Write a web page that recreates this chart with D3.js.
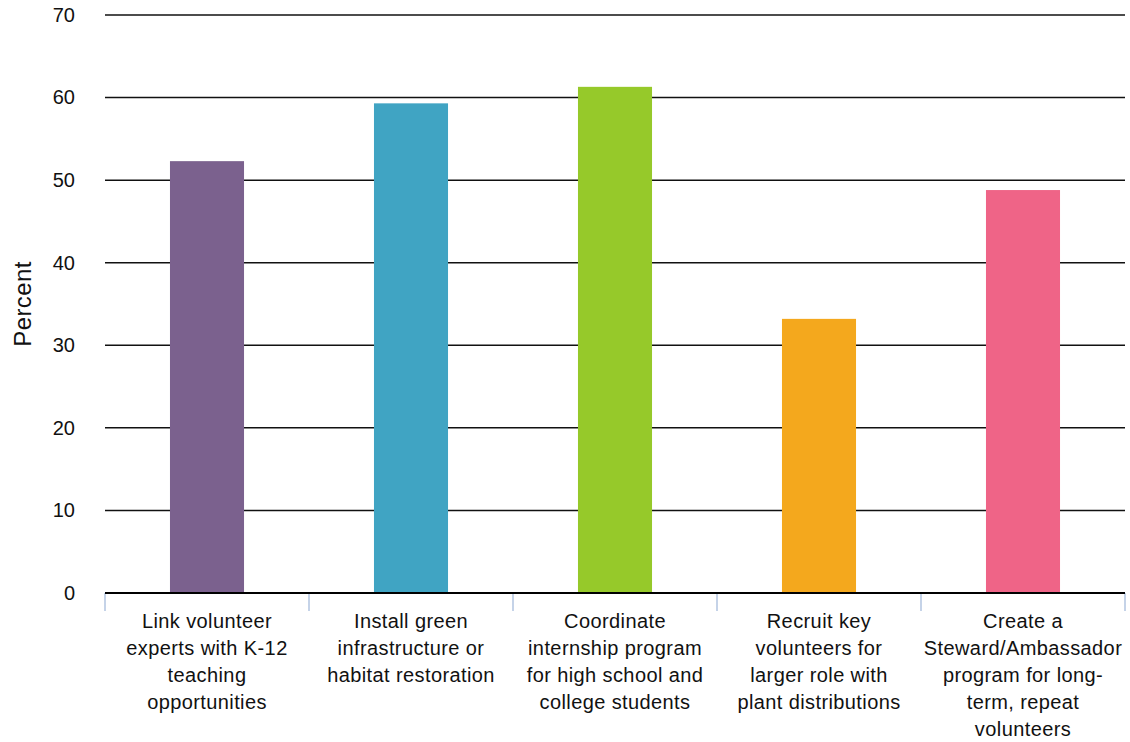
<!DOCTYPE html>
<html>
<head>
<meta charset="utf-8">
<script src="https://cdn.jsdelivr.net/npm/d3@7"></script>
<style>
body{margin:0;background:#fff;font-family:"Liberation Sans",Arial,sans-serif;}
</style>
</head>
<body>
<div id="chart"></div>
<script>
// categories (line breaks as in the original)
var categorias=[
	"Link volunteer|experts with K-12|teaching|opportunities",
	"Install green|infrastructure or|habitat restoration",
	"Coordinate|internship program|for high school and|college students",
	"Recruit key|volunteers for|larger role with|plant distributions",
	"Create a|Steward/Ambassador|program for long-|term, repeat|volunteers"
]
var valores=[52.3,59.3,61.3,33.2,48.8]
var colores=["#7B618E","#40A4C3","#96C92A","#F4A81D","#EF6487"]
var ticksY=[0,10,20,30,40,50,60,70]

var W=1130,H=742
var margin={top:15,bottom:149,left:105,right:5}
var ancho=W-margin.left-margin.right
var alto=H-margin.top-margin.bottom

var svg1=d3.select("#chart").append("svg")
	.attr("width",W).attr("height",H)
var svg=svg1.append("g")
	.attr("transform","translate("+margin.left+","+margin.top+")")

var escalaX=d3.scaleBand().domain(d3.range(categorias.length)).range([0,ancho]).padding(0)
var escalaY=d3.scaleLinear().domain([0,70]).range([alto,0])

//Grid
svg.append("g").selectAll("line").data(ticksY.filter(d=>d>0)).enter().append("line")
	.attr("x1",0).attr("x2",ancho)
	.attr("y1",d=>escalaY(d)).attr("y2",d=>escalaY(d))
	.attr("stroke","#111").attr("stroke-width",1.5)

//Etiquetas eje Y
var ejeY=svg.append("g")
	.call(d3.axisLeft(escalaY).tickValues(ticksY).tickSize(0).tickPadding(30))
ejeY.select(".domain").remove()
ejeY.selectAll("text").style("font-size","20px").style("font-family","Liberation Sans, Arial, sans-serif").attr("fill","#111")

//Barras
var bw=escalaX.bandwidth()*0.363
svg.selectAll(".barra").data(valores).enter().append("rect")
	.attr("class","barra")
	.attr("x",(d,i)=>escalaX(i)+escalaX.bandwidth()/2-bw/2)
	.attr("y",d=>escalaY(d))
	.attr("width",bw)
	.attr("height",d=>alto-escalaY(d))
	.attr("fill",(d,i)=>colores[i])

//Ticks eje X
var bordes=d3.range(categorias.length).map(i=>escalaX(i)).concat([ancho])
svg.append("g").selectAll("line").data(bordes).enter().append("line")
	.attr("x1",d=>d).attr("x2",d=>d)
	.attr("y1",alto).attr("y2",alto+18)
	.attr("stroke","#c5d3e8").attr("stroke-width",2)

svg.append("line")
	.attr("x1",0).attr("x2",ancho).attr("y1",alto).attr("y2",alto)
	.attr("stroke","#000").attr("stroke-width",2)

//Etiquetas X
var etiquetas=svg.append("g").selectAll("text").data(categorias).enter().append("text")
	.attr("transform",(d,i)=>"translate("+(escalaX(i)+escalaX.bandwidth()/2)+","+(alto+35)+")")
	.attr("text-anchor","middle")
	.style("font-size","20px")
	.style("letter-spacing","0.4px")
	.attr("fill","#111")
etiquetas.selectAll("tspan").data(d=>d.split("|")).enter().append("tspan")
	.attr("x",0).attr("dy",(d,i)=>i==0?0:27)
	.text(d=>d)

//Titulo eje Y
svg1.append("text")
	.attr("transform","translate(31,"+(margin.top+alto/2)+") rotate(-90)")
	.attr("text-anchor","middle")
	.style("font-size","24px")
	.style("letter-spacing","0.4px")
	.attr("fill","#111")
	.text("Percent")
</script>
</body>
</html>
